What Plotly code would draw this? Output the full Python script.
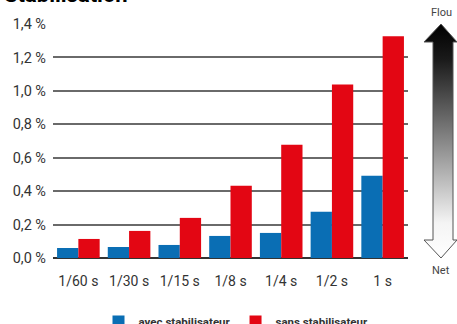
import plotly.graph_objects as go

# Data:
vitesses = ["1/60 s", "1/30 s", "1/15 s", "1/8 s", "1/4 s", "1/2 s", "1 s"]
avec_stab = [0.06, 0.066, 0.078, 0.132, 0.15, 0.276, 0.492]
sans_stab = [0.114, 0.162, 0.24, 0.432, 0.678, 1.038, 1.326]
y_ticks = [0, 0.2, 0.4, 0.6, 0.8, 1.0, 1.2, 1.4]
y_labels = ["0,0 %", "0,2 %", "0,4 %", "0,6 %", "0,8 %", "1,0 %", "1,2 %", "1,4 %"]

W, H = 457, 324
left, right, top, bottom = 53, 0, 24, 66
x_end = 408
dom_x = (x_end - left) / (W - left - right)
ph = H - top - bottom
pw = W - left - right

fig = go.Figure()
fig.add_trace(go.Bar(x=vitesses, y=avec_stab, name="<b>avec stabilisateur</b>",
                     marker=dict(color="#0a6eb4", line_width=0)))
fig.add_trace(go.Bar(x=vitesses, y=sans_stab, name="<b>sans stabilisateur</b>",
                     marker=dict(color="#e30613", line_width=0)))

# Flou / Net arrow (pixel coords, y measured from bottom of figure)
ax = [441, 457, 453, 453, 457, 441, 424, 433, 433, 424, 441]
ay = [300, 282, 282, 84, 84, 66, 84, 84, 282, 282, 300]
fig.add_trace(go.Scatter(
    x=ax, y=ay, xaxis="x2", yaxis="y2", mode="lines", fill="toself",
    line=dict(color="#555555", width=1),
    fillgradient=dict(type="vertical",
                      colorscale=[[0, "#ffffff"], [0.15, "#f4f4f4"], [0.85, "#1a1a1a"], [1, "#000000"]]),
    showlegend=False, hoverinfo="skip"
))

fig.update_layout(
    width=W, height=H,
    margin=dict(l=left, r=right, t=top, b=bottom, autoexpand=False),
    plot_bgcolor="white", paper_bgcolor="white",
    font=dict(family="Roboto", size=14, color="#333333"),
    barmode="group", bargap=0.16, bargroupgap=0,
    xaxis=dict(domain=[0, dom_x], showgrid=False, ticks="", tickfont=dict(size=14, color="#333333"),
               ticklabelstandoff=13, showline=False),
    yaxis=dict(range=[0, 1.4], tickvals=y_ticks, ticktext=y_labels, showgrid=True,
               tickfont=dict(size=14.5, color="#333333"),
               gridcolor="#6a6a6a", gridwidth=1.5, zeroline=True, zerolinecolor="#333333",
               zerolinewidth=2, ticks="", ticklabelstandoff=6),
    xaxis2=dict(domain=[dom_x, 1], range=[x_end, W], visible=False, fixedrange=True),
    yaxis2=dict(domain=[0, 1], range=[bottom, H - top], anchor="x2", visible=False, fixedrange=True),
    showlegend=True,
    legend=dict(orientation="h", x=(236 - left) / pw, xanchor="center",
                y=-(307 - (H - bottom)) / ph, yanchor="top",
                font=dict(size=11.5, color="#333333", family="Roboto"),
                itemwidth=30, traceorder="normal"),
    annotations=[
        dict(text="<b>Stabilisation</b>", xref="paper", yref="paper", x=-(left - 2) / pw,
             y=1 + (top - 9) / ph, xanchor="left", yanchor="bottom",
             showarrow=False, font=dict(size=22, color="#000000")),
        dict(text="Flou", xref="paper", yref="paper", x=(441 - left) / pw,
             y=(H - bottom - 13) / ph, xanchor="center", yanchor="middle", showarrow=False,
             font=dict(size=11, color="#444444")),
        dict(text="Net", xref="paper", yref="paper", x=(441 - left) / pw,
             y=(H - bottom - 270) / ph, xanchor="center", yanchor="middle", showarrow=False,
             font=dict(size=11, color="#444444")),
    ],
)

fig.write_html("out.html", config={"displayModeBar": False},
               post_script="document.body.style.margin='0';")
